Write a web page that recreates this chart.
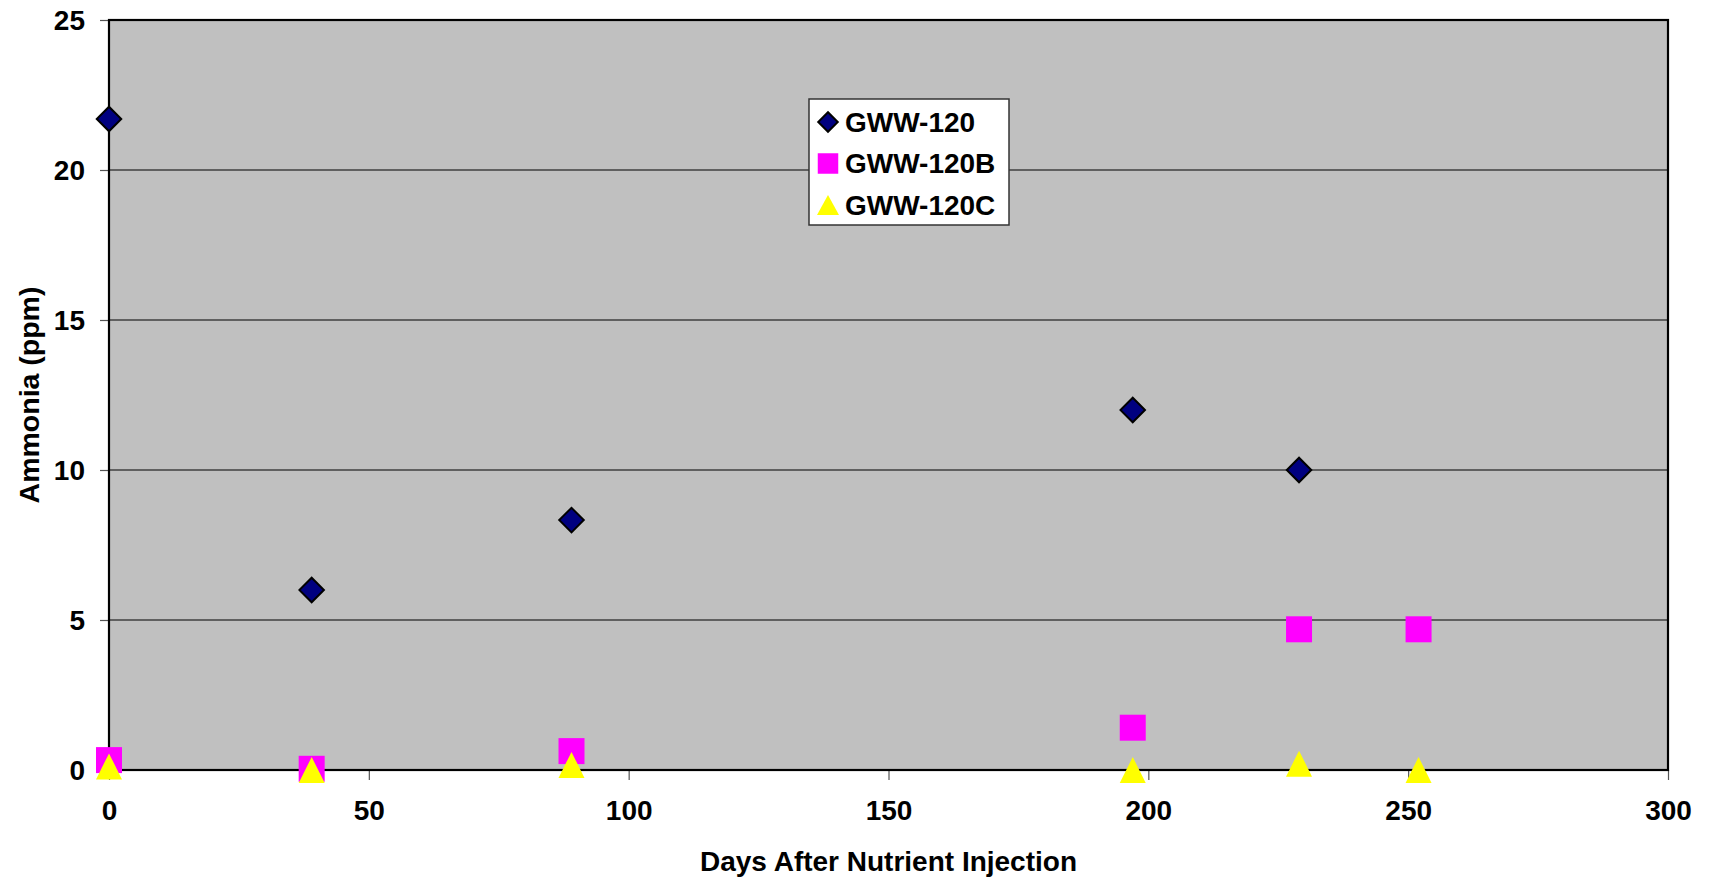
<!DOCTYPE html>
<html>
<head>
<meta charset="utf-8">
<script src="https://cdn.jsdelivr.net/npm/d3@7"></script>
<style>
  body { margin: 0; background: #fff; }
  text { font-family: "Liberation Sans", Arial, sans-serif; font-weight: bold; }
</style>
</head>
<body>
<svg id="chart" width="1711" height="879"></svg>
<script>
// data
const seriesNames = ['GWW-120', 'GWW-120B', 'GWW-120C'];
const days120  = [0, 39, 89, 197, 229];
const vals120  = [21.7, 6.0, 8.33, 12.0, 10.0];
const days120B = [0, 39, 89, 197, 229, 252];
const vals120B = [0.33, 0.04, 0.63, 1.41, 4.69, 4.69];
const days120C = [0, 39, 89, 197, 229, 252];
const vals120C = [0.12, 0.0, 0.17, 0.0, 0.21, 0.0];
const xTicks = [0, 50, 100, 150, 200, 250, 300];
const yTicks = [0, 5, 10, 15, 20, 25];

const d3s = d3;
const svg = d3s.select('#chart');

// plot area
const margin = { left: 109, top: 20, right: 1711 - 1668, bottom: 879 - 770 };
const width = 1711 - margin.left - margin.right;
const height = 879 - margin.top - margin.bottom;

const x = d3s.scaleLinear().domain([0, 300]).range([0, width]);
const y = d3s.scaleLinear().domain([0, 25]).range([height, 0]);

const g = svg.append('g').attr('transform', 'translate(' + margin.left + ',' + margin.top + ')');

g.append('rect')
  .attr('width', width).attr('height', height)
  .attr('fill', '#c0c0c0');

// gridlines
g.selectAll('line.grid')
  .data(yTicks.filter(d => d > 0 && d < 25))
  .enter().append('line')
  .attr('class', 'grid')
  .attr('x1', 0).attr('x2', width)
  .attr('y1', d => y(d)).attr('y2', d => y(d))
  .attr('stroke', '#000').attr('stroke-width', 1.2);

// axes
const yAxis = g.append('g')
  .call(d3s.axisLeft(y).tickValues(yTicks).tickSize(9).tickPadding(15).tickSizeOuter(0));
const xAxis = g.append('g')
  .attr('transform', 'translate(0,' + height + ')')
  .call(d3s.axisBottom(x).tickValues(xTicks).tickSize(10).tickPadding(20).tickSizeOuter(0));

[yAxis, xAxis].forEach(a => {
  a.select('.domain').remove();
  a.selectAll('line').attr('stroke', '#555').attr('stroke-width', 1.2);
  a.selectAll('text').attr('font-size', 28).attr('fill', '#000')
    .style('font-family', '"Liberation Sans", Arial, sans-serif').style('font-weight', 'bold');
});
yAxis.selectAll('text').attr('dy', '0.35em');
xAxis.selectAll('text').attr('dy', '0.71em');

// plot border
g.append('rect')
  .attr('width', width).attr('height', height)
  .attr('fill', 'none').attr('stroke', '#000').attr('stroke-width', 2.2);

// markers
const diamond = d3s.symbol().type(d3s.symbolSquare).size(300);
const square = d3s.symbol().type(d3s.symbolSquare).size(676);
const triangle = d => {
  const s = 13;
  return 'M0,' + (-s) + 'L' + s + ',' + s + 'L' + (-s) + ',' + s + 'Z';
};

const s1 = days120.map((d, i) => ({ x: d, y: vals120[i] }));
const s2 = days120B.map((d, i) => ({ x: d, y: vals120B[i] }));
const s3 = days120C.map((d, i) => ({ x: d, y: vals120C[i] }));

g.selectAll('path.s1').data(s1).enter().append('path')
  .attr('d', diamond)
  .attr('transform', d => 'translate(' + x(d.x) + ',' + y(d.y) + ') rotate(45)')
  .attr('fill', '#000080').attr('stroke', '#000').attr('stroke-width', 2);

g.selectAll('path.s2').data(s2).enter().append('path')
  .attr('d', square)
  .attr('transform', d => 'translate(' + x(d.x) + ',' + y(d.y) + ')')
  .attr('fill', '#ff00ff');

g.selectAll('path.s3').data(s3).enter().append('path')
  .attr('d', triangle)
  .attr('transform', d => 'translate(' + x(d.x) + ',' + y(d.y) + ')')
  .attr('fill', '#ffff00');

// legend
const lg = svg.append('g').attr('transform', 'translate(809,99)');
lg.append('rect')
  .attr('width', 200).attr('height', 126)
  .attr('fill', '#fff').attr('stroke', '#333').attr('stroke-width', 1.5);

const legendRows = lg.selectAll('g.row').data(seriesNames).enter().append('g')
  .attr('transform', (d, i) => 'translate(19,' + (23 + i * 41.5) + ')');

legendRows.each(function(d, i) {
  const r = d3s.select(this);
  if (i === 0) {
    r.append('path').attr('d', d3s.symbol().type(d3s.symbolSquare).size(190)())
      .attr('transform', 'rotate(45)')
      .attr('fill', '#000080').attr('stroke', '#000').attr('stroke-width', 2);
  } else if (i === 1) {
    r.append('path').attr('d', d3s.symbol().type(d3s.symbolSquare).size(420)())
      .attr('fill', '#ff00ff');
  } else {
    r.append('path').attr('d', 'M0,-10L11,10L-11,10Z').attr('fill', '#ffff00');
  }
  r.append('text').attr('x', 17).attr('dy', '0.35em')
    .attr('font-size', 28).text(d);
});

// axis titles
svg.append('text')
  .attr('x', margin.left + width / 2).attr('y', 871)
  .attr('text-anchor', 'middle').attr('font-size', 28)
  .text('Days After Nutrient Injection');

svg.append('text')
  .attr('transform', 'translate(39,' + (margin.top + height / 2) + ') rotate(-90)')
  .attr('text-anchor', 'middle').attr('font-size', 28.5)
  .text('Ammonia (ppm)');
</script>
</body>
</html>
